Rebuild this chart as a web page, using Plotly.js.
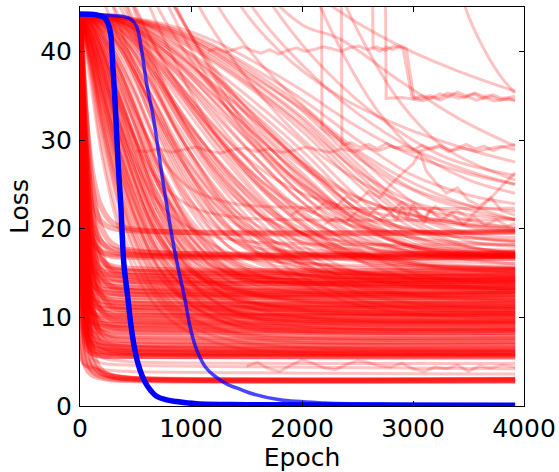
<!DOCTYPE html>
<html><head><meta charset="utf-8">
<script src="https://cdn.plot.ly/plotly-3.0.1.min.js"></script>
<style>html,body{margin:0;padding:0;background:#fff}#chart{width:559px;height:472px}</style>
</head><body><div id="chart"></div>
<script>
// ---------- data ----------
const xTickVals = [0, 1000, 2000, 3000, 4000];
const yTickVals = [0, 10, 20, 30, 40];

// fast-converging red runs (loss at fastEpochs)
const fastEpochs = [0, 25, 60, 110, 180, 280, 450, 3920];
const fastLoss = [
 [44.2, 6.5, 4.2, 3.5, 3.2, 3.0, 2.9, 2.8],
 [44.2, 14, 6, 4.0, 3.4, 3.1, 3.0, 2.9],
 [44.2, 22, 9, 5.0, 3.8, 3.3, 3.1, 3.0],
 [44.2, 5.2, 4.6, 4.2, 3.8, 3.4, 3.1, 2.9],
 [44.2, 30, 14, 6.5, 4.2, 3.4, 3.1, 2.95],
 [44.2, 9, 6.5, 5.9, 5.7, 5.6, 5.6, 5.5],
 [44.2, 16, 8, 6.3, 5.9, 5.8, 5.7, 5.6],
 [44.2, 24, 12, 7.5, 6.3, 6.0, 5.9, 5.8],
 [44.2, 11, 7.4, 6.5, 6.2, 6.1, 6.0, 5.9],
 [44.2, 30, 17, 9.5, 7.0, 6.3, 6.1, 6.0],
 [44.2, 13, 8, 6.8, 6.4, 6.3, 6.2, 6.1],
 [44.2, 20, 10, 7.4, 6.7, 6.5, 6.4, 6.3],
 [44.2, 35, 22, 12, 8.0, 6.9, 6.6, 6.4],
 [44.2, 12, 8.2, 7.1, 6.8, 6.7, 6.6, 6.5],
 [44.2, 25, 13, 8.5, 7.3, 7.0, 6.9, 6.8],
 [44.2, 15, 9, 7.6, 7.2, 7.1, 7.0, 7.0],
 [44.2, 33, 19, 11, 8.4, 7.6, 7.4, 7.3],
 [44.2, 18, 10, 8.2, 7.8, 7.7, 7.6, 7.6],
 [44.2, 28, 15, 10, 8.5, 8.0, 7.9, 7.8],
 [44.2, 10, 7.2, 6.0, 5.7, 5.6, 5.6, 5.7],
 [44.2, 14, 9.5, 8.6, 8.4, 8.3, 8.3, 8.3],
 [44.2, 22, 12, 9.5, 8.8, 8.6, 8.5, 8.5],
 [44.2, 30, 17, 11, 9.4, 8.9, 8.7, 8.6],
 [44.2, 16, 11, 9.4, 9.0, 8.9, 8.9, 8.9],
 [44.2, 26, 15, 10.8, 9.6, 9.2, 9.1, 9.0],
 [44.2, 12, 10, 9.5, 9.3, 9.2, 9.2, 9.2],
 [44.2, 36, 24, 15, 11, 9.8, 9.6, 9.5],
 [44.2, 20, 12.5, 10.3, 9.8, 9.6, 9.6, 9.6],
 [44.2, 18, 12.5, 10.6, 10.1, 9.9, 9.8, 9.8],
 [44.2, 31, 18, 12.5, 10.9, 10.3, 10.2, 10.1],
 [44.2, 15, 11.5, 10.6, 10.3, 10.2, 10.2, 10.2],
 [44.2, 24, 15, 12, 10.9, 10.5, 10.4, 10.4],
 [44.2, 38, 28, 18, 13, 11.2, 10.8, 10.6],
 [44.2, 17, 12.5, 11.3, 11.0, 10.9, 10.9, 10.9],
 [44.2, 27, 16, 12.6, 11.6, 11.2, 11.1, 11.0],
 [44.2, 21, 14, 12.0, 11.4, 11.3, 11.2, 11.2],
 [44.2, 34, 22, 15, 12.5, 11.8, 11.6, 11.5],
 [44.2, 19, 14, 12.4, 11.9, 11.7, 11.6, 11.6],
 [44.2, 29, 19, 14.5, 12.6, 12.0, 11.9, 11.8],
 [44.2, 22, 15.5, 13.2, 12.6, 12.4, 12.3, 12.3],
 [44.2, 32, 21, 15.5, 13.5, 12.8, 12.6, 12.5],
 [44.2, 25, 17, 14, 13.0, 12.7, 12.6, 12.6],
 [44.2, 37, 27, 19, 15, 13.5, 13.0, 12.9],
 [44.2, 20, 15, 13.6, 13.2, 13.1, 13.0, 13.0],
 [44.2, 30, 21, 16, 14.2, 13.5, 13.3, 13.2],
 [44.2, 23, 17, 14.6, 13.8, 13.5, 13.4, 13.4],
 [44.2, 26, 18.5, 15.5, 14.4, 14.0, 13.9, 13.8],
 [44.2, 33, 24, 18, 15.5, 14.5, 14.1, 14.0],
 [44.2, 24, 18, 15.6, 14.6, 14.3, 14.1, 14.1],
 [44.2, 39, 31, 22, 17.5, 15.3, 14.6, 14.4],
 [44.2, 28, 21, 17, 15.4, 14.9, 14.7, 14.6],
 [44.2, 22, 17.5, 15.8, 15.0, 14.8, 14.7, 14.7],
 [44.2, 35, 26, 20, 16.8, 15.6, 15.2, 15.0],
 [44.2, 27, 20.5, 17.2, 15.8, 15.4, 15.2, 15.2],
 [44.2, 31, 24, 19, 16.7, 15.8, 15.5, 15.3],
 [44.2, 30, 23, 19, 17.5, 16.9, 16.8, 16.7],
 [44.2, 36, 28, 22, 18.8, 17.5, 17.1, 16.9],
 [44.2, 27, 21.5, 18.6, 17.5, 17.1, 17.0, 17.0],
 [44.2, 39, 32, 25, 20.5, 18.4, 17.6, 17.2],
 [44.2, 33, 26, 21, 18.7, 17.8, 17.4, 17.3],
 [44.2, 34, 28, 23.5, 21, 20.1, 19.8, 19.6],
 [44.2, 38, 32, 26.5, 22.8, 20.8, 20.0, 19.7]
];
// fast runs that settle in the light 3-5 strip
const fastLightLoss = [
 [44.2, 8, 5.5, 4.6, 4.2, 4.0, 3.9, 3.6],
 [44.2, 18, 8, 5.4, 4.9, 4.7, 4.6, 4.2],
 [44.2, 26, 12, 7, 5.6, 5.2, 5.0, 4.8],
 [44.2, 4.8, 4.5, 4.3, 4.0, 3.6, 3.2, 3.1]
];

// medium-speed red runs
const midEpochs = [0, 100, 200, 350, 500, 700, 1000, 1400, 2000, 3920];
const midLoss = [
 [44.2, 41, 37, 31, 26, 20.5, 15.5, 13.2, 12.4, 12.0],
 [44.2, 42.5, 40, 35, 30, 24, 18, 14.8, 13.8, 13.5],
 [44.2, 43, 41.5, 38, 33.5, 27.5, 21, 16.5, 14.8, 14.3],
 [44.2, 40, 35, 28, 22.5, 17, 12.8, 10.8, 10.0, 9.6],
 [44.2, 43.5, 42.5, 40, 36.5, 31, 24, 18.5, 16.2, 15.5],
 [44.2, 39, 33, 25.5, 20, 15, 11.3, 9.6, 8.9, 8.6],
 [44.2, 42, 38.5, 32.5, 27, 21, 15.5, 12.2, 11.0, 10.6],
 [44.2, 43.8, 43, 41, 37.5, 32, 25, 19.5, 17.2, 16.8],
 [44.2, 38, 31, 23, 17.5, 12.8, 9.8, 8.2, 7.6, 7.3],
 [44.2, 41.5, 38, 32, 26.5, 20, 14, 10.5, 9.0, 8.6],
 [44.2, 43, 40.5, 35.5, 30, 23, 16.5, 12.5, 10.8, 10.2],
 [44.2, 37, 29, 21, 16, 12, 9, 7.3, 6.6, 6.3],
 [44.2, 42, 39, 33.5, 28.5, 22.5, 16.8, 13.2, 12.0, 11.6],
 [44.2, 43.5, 42, 38.5, 34, 27.5, 20, 15, 13.2, 12.8],
 [44.2, 40.5, 36, 29.5, 24, 18.5, 14, 11.5, 10.6, 10.3],
 [44.2, 43.9, 43.5, 42, 39.5, 35, 28.5, 22, 18.5, 17.2],
 [44.2, 39.5, 34, 27, 21.5, 16.5, 13, 11.2, 10.6, 10.4],
 [44.2, 42.8, 40.5, 36, 31.5, 25.5, 19.5, 15.5, 14.1, 13.8],
 [44.2, 36, 28, 20, 15, 11, 8.2, 6.6, 6.0, 5.8],
 [44.2, 41, 36.5, 29.5, 23.5, 17.5, 12.5, 9.6, 8.5, 8.2],
 [44.2, 43.2, 41.5, 37.5, 32.5, 26, 19, 14.5, 12.8, 12.3],
 [44.2, 43.7, 42.8, 40.5, 37, 31.5, 24.5, 18.5, 15.6, 14.8],
 [44.2, 40, 35.5, 29, 24, 19, 15, 13.1, 12.6, 12.4],
 [44.2, 38.5, 32, 24.5, 19, 14.5, 11.6, 10.1, 9.6, 9.3],
 [44.2, 42.3, 39.5, 34, 28.5, 22, 15.8, 11.8, 10.0, 9.5],
 [44.2, 43.6, 42.3, 39, 35, 29, 22, 16.2, 13.5, 12.9],
 [44.2, 41.8, 38, 31.5, 25.5, 19.5, 14.5, 12.0, 11.3, 11.0],
 [44.2, 43.9, 43.6, 42.5, 40.5, 36.5, 30, 23.5, 19.5, 17.6],
 [44.2, 39, 33.5, 26.5, 21, 16, 12.3, 10.4, 9.8, 9.5],
 [44.2, 42.5, 39.8, 34.5, 29.5, 23.5, 17.8, 14.6, 13.6, 13.3],
 [44.2, 37.5, 30.5, 22.5, 17, 12.5, 9.4, 7.9, 7.2, 7.0],
 [44.2, 43.4, 41.8, 38, 33.5, 27, 20.5, 16.2, 14.8, 14.4],
 [44.2, 41.2, 37, 30.5, 25, 19, 13.8, 10.6, 9.4, 9.0],
 [44.2, 43.8, 43.2, 41.5, 38.5, 33.5, 26.5, 20.5, 17.8, 17.0],
 [44.2, 40.5, 35, 27.5, 21.5, 15.8, 11.5, 9.0, 8.2, 7.9],
 [44.2, 42.6, 40, 35, 30.5, 25, 20, 17, 16.1, 15.8],
 [44.2, 39.8, 34.5, 27.8, 22.5, 17.5, 13.6, 11.8, 11.2, 11.0],
 [44.2, 43.1, 41, 36.5, 31.5, 25, 18.2, 13.6, 11.8, 11.2],
 [44.2, 41.6, 38.2, 32, 26.5, 21, 16.5, 14.4, 13.9, 13.7],
 [44.2, 43.5, 42.2, 39, 35.2, 29.5, 23, 18.6, 17.3, 17.0],
 [44.2, 38.2, 31.5, 23.8, 18.5, 14, 10.8, 9.2, 8.7, 8.5],
 [44.2, 42, 38.8, 33, 27.8, 22, 17, 14.9, 14.4, 14.2],
 [44.2, 43, 41, 37, 33, 28.5, 24.5, 22.8, 22.4, 22.3],
 [44.2, 42, 39, 34, 30, 25.5, 22.5, 21.3, 21.0, 21.0],
 [44.2, 41, 37.5, 32, 27.5, 23.0, 20.0, 18.7, 18.3, 18.2],
 [44.2, 43.0, 40.0, 34.0, 28.0, 21.5, 16.0, 13.0, 11.8, 11.4],
 [44.2, 41.0, 36.0, 28.5, 22.5, 16.8, 12.6, 10.6, 10.0, 9.8],
 [44.2, 43.7, 42.5, 39.5, 35.5, 29.5, 22.5, 17.5, 15.3, 14.9],
 [44.2, 42.0, 38.0, 31.0, 25.0, 19.0, 14.4, 12.4, 11.9, 11.7],
 [44.2, 39.0, 32.5, 25.0, 19.5, 14.8, 11.8, 10.6, 10.3, 10.2],
 [44.2, 43.9, 43.3, 41.5, 38.5, 33.5, 26.0, 19.5, 16.0, 14.6],
 [44.2, 42.8, 40.2, 35.2, 30.0, 24.0, 18.3, 15.0, 14.2, 14.0],
 [44.2, 40.2, 34.8, 27.2, 21.2, 15.6, 11.4, 9.1, 8.4, 8.2],
 [44.2, 43.3, 41.4, 37.0, 32.0, 25.5, 19.0, 15.1, 13.8, 13.4],
 [44.2, 41.4, 37.3, 30.8, 25.2, 19.6, 15.0, 12.8, 12.3, 12.2],
 [44.2, 43.8, 42.9, 40.8, 37.6, 32.4, 25.5, 19.0, 15.6, 14.4],
 [44.2, 38.8, 32.2, 24.2, 18.4, 13.4, 10.0, 8.3, 7.8, 7.6],
 [44.2, 42.4, 39.0, 33.0, 27.2, 20.8, 15.2, 12.0, 10.9, 10.6],
 [44.2, 43.6, 42.0, 38.2, 33.6, 27.2, 20.4, 15.8, 14.0, 13.5],
 [44.2, 40.8, 36.0, 29.0, 23.4, 18.0, 13.9, 12.0, 11.5, 11.3],
 [44.2, 43.9, 43.4, 42.0, 39.6, 35.2, 28.4, 21.5, 17.4, 15.5],
 [44.2, 41.9, 38.3, 32.0, 26.4, 20.4, 15.4, 12.9, 12.1, 11.9],
 [44.2, 43.2, 41.0, 36.4, 31.4, 25.0, 18.8, 15.2, 14.2, 14.0],
 [44.2, 39.4, 33.6, 26.2, 20.6, 15.6, 12.0, 10.2, 9.6, 9.4],
 [44.2, 42.6, 39.6, 34.2, 29.0, 23.0, 17.6, 14.6, 13.8, 13.6],
 [44.2, 43.5, 41.8, 37.8, 33.0, 26.6, 20.0, 15.9, 14.7, 14.5],
 [44.2, 40.6, 35.6, 28.6, 23.0, 17.6, 13.4, 11.3, 10.8, 10.6],
 [44.2, 43.0, 40.4, 35.0, 29.6, 23.2, 17.2, 13.8, 12.8, 12.6],
 [44.2, 41.2, 37.0, 30.4, 24.8, 19.4, 15.2, 13.3, 12.9, 12.8],
 [44.2, 43.8, 43.0, 40.6, 36.8, 30.6, 23.2, 17.4, 14.8, 14.1]
];

// slow red runs
const slowEpochs = [0, 300, 600, 900, 1200, 1600, 2000, 2500, 3000, 3500, 3920];
const slowLoss = [
 [44.2, 44.0, 43.2, 42.0, 40.2, 37.0, 33.3, 27.3, 22.0, 19.5, 19.0],
 [44.2, 43.9, 43.0, 41.6, 39.6, 36.2, 32.3, 26.2, 21.0, 18.6, 18.0],
 [44.2, 43.8, 42.7, 41.0, 38.8, 35.2, 31.0, 25.0, 20.0, 17.9, 17.4],
 [44.2, 43.8, 42.5, 40.5, 38.0, 34.0, 29.7, 23.6, 19.2, 17.5, 17.1],
 [44.2, 43.7, 42.2, 39.8, 37.0, 32.6, 28.0, 22.0, 18.3, 17.1, 16.9],
 [44.2, 43.6, 41.8, 39.0, 35.8, 31.0, 26.3, 20.8, 17.8, 16.9, 16.7],
 [44.2, 43.5, 41.4, 38.2, 34.5, 29.5, 24.8, 19.8, 17.3, 16.8, 16.7],
 [44.2, 43.3, 40.8, 37.2, 33.0, 27.8, 23.0, 18.5, 16.2, 15.4, 15.2],
 [44.2, 43.9, 43.1, 41.8, 40.0, 36.8, 33.5, 28.5, 24.5, 22.6, 22.0],
 [44.2, 43.9, 43.0, 41.4, 39.3, 35.7, 31.8, 26.5, 23.0, 21.6, 21.1],
 [44.2, 43.7, 42.0, 39.4, 36.4, 32.0, 27.5, 22.2, 19.9, 19.6, 19.6],
 [44.2, 43.4, 41.0, 37.6, 33.8, 29.0, 24.6, 20.5, 19.0, 18.4, 18.2],
 [44.2, 43.2, 40.2, 36.2, 31.8, 26.5, 22.0, 17.8, 15.0, 14.0, 13.7],
 [44.2, 42.9, 39.5, 35.0, 30.2, 24.8, 20.5, 16.5, 14.3, 13.5, 13.2],
 [44.2, 43.0, 39.8, 35.5, 31.0, 25.8, 21.6, 18.2, 17.2, 17.0, 16.9],
 [44.2, 43.6, 41.6, 38.6, 35.0, 30.3, 25.9, 21.0, 18.0, 17.4, 17.3],
 [44.2, 44.0, 43.5, 42.6, 41.2, 38.6, 35.6, 31.5, 28.2, 26.2, 25.0],
 [44.2, 44.0, 43.4, 42.3, 40.7, 37.8, 34.6, 30.0, 26.0, 23.8, 22.8],
 [44.2, 43.5, 41.0, 37.0, 32.5, 26.5, 21.5, 17.5, 16.2, 15.8, 15.6],
 [44.2, 43.2, 40.0, 35.2, 30.0, 24.0, 19.5, 16.4, 15.2, 14.8, 14.6],
 [44.2, 42.8, 38.8, 33.4, 28.2, 22.4, 18.2, 15.0, 13.8, 13.4, 13.2],
 [44.2, 42.5, 38.0, 32.0, 26.6, 21.0, 17.0, 13.8, 12.6, 12.2, 12.0],
 [44.2, 43.4, 40.6, 36.0, 31.2, 25.4, 20.8, 17.0, 15.8, 15.5, 15.4],
 [44.2, 42.0, 36.8, 30.4, 25.0, 19.6, 15.8, 12.8, 11.6, 11.2, 11.0],
 [44.2, 43.0, 39.4, 34.4, 29.4, 23.6, 19.4, 16.6, 15.6, 15.3, 15.2],
 [44.2, 43.7, 41.8, 38.4, 34.4, 28.8, 23.8, 19.2, 17.6, 17.2, 17.1],
 [44.2, 41.6, 36.0, 29.2, 23.6, 18.2, 14.6, 12.0, 11.0, 10.7, 10.6],
 [44.2, 43.8, 42.4, 39.6, 36.0, 30.6, 25.4, 20.4, 18.0, 17.4, 17.2],
 [44.2, 42.2, 37.4, 31.2, 25.8, 20.2, 16.2, 13.4, 12.4, 12.0, 11.9],
 [44.2, 43.3, 40.2, 35.6, 30.8, 25.0, 20.4, 17.2, 16.4, 16.2, 16.1],
 [44.2, 41.2, 35.2, 28.0, 22.4, 17.2, 13.8, 11.4, 10.4, 10.0, 9.9],
 [44.2, 43.6, 41.4, 37.6, 33.4, 27.8, 23.0, 19.0, 17.4, 17.0, 16.9],
 [44.2, 42.6, 38.4, 32.6, 27.4, 21.8, 17.6, 14.6, 13.6, 13.3, 13.2],
 [44.2, 43.9, 42.9, 40.6, 37.4, 32.4, 27.4, 22.2, 19.8, 19.0, 18.7],
 [44.2, 44.0, 43.3, 42.2, 40.5, 37.4, 33.8, 28.2, 23.0, 20.2, 19.7],
 [44.2, 43.9, 42.9, 41.2, 39.0, 35.5, 31.5, 25.6, 20.6, 18.0, 17.3],
 [44.2, 43.8, 42.4, 40.2, 37.4, 33.2, 28.8, 22.8, 18.8, 17.3, 17.0],
 [44.2, 43.7, 42.0, 39.4, 36.2, 31.8, 27.2, 21.5, 18.0, 17.0, 16.8],
 [44.2, 43.6, 41.6, 38.6, 35.2, 30.4, 25.8, 20.6, 17.8, 17.0, 16.8],
 [44.2, 43.9, 43.2, 41.9, 39.9, 36.4, 32.6, 26.8, 21.6, 19.2, 18.6]
];

// runs that start above the visible range, as [epoch, loss] points
const highCurves = [
 [[0,70],[200,50],[400,44],[700,37],[1000,31],[1400,25],[2000,19.5],[3000,16],[3920,15]],
 [[0,90],[500,55],[800,45],[1200,36],[1600,29],[2200,22],[3000,18],[3920,17]],
 [[0,100],[800,58],[1200,46],[1600,39],[2000,34],[2600,28],[3200,24],[3920,21]],
 [[0,120],[1000,60],[1500,46],[2000,38.5],[2500,33],[3000,29],[3500,26.5],[3920,25]],
 [[0,120],[1200,65],[1800,50],[2340,44.5],[2900,40.5],[3400,37.8],[3920,35.5]],
 [[0,110],[1000,62],[1600,48],[2000,43],[2340,41.4],[2900,36.5],[3400,32.5],[3920,29.3]],
 [[0,100],[900,60],[1400,46],[1800,40],[2340,34.9],[2900,31.5],[3400,29.3],[3920,27.5]],
 [[3000,80],[3300,55],[3470,45],[3650,40],[3800,37],[3920,35.3]],
 [[0,80],[300,52],[500,45],[800,38],[1100,33],[1500,28],[2000,24],[3000,21],[3920,20]],
 [[0,60],[150,48],[300,43],[600,35],[1000,27],[1500,20],[2000,16],[3000,13.5],[3920,13]],
 [[0,140],[1500,70],[2100,47],[2400,39],[2700,33],[3000,29],[3500,25.5],[3920,24]],
 [[0,150],[1800,70],[2300,48],[2600,40],[2900,34],[3300,29],[3920,25.5]],
 [[0,95],[600,52],[900,44],[1300,36],[1800,29],[2400,24],[3200,21],[3920,20.2]],
 [[0,75],[400,48],[650,41],[1000,34],[1400,28],[1900,23],[2600,20],[3920,19.8]],
 [[0,65],[200,48],[350,44],[600,39],[900,33],[1300,27],[1800,21],[2500,17],[3920,15.5]],
 [[0,85],[400,55],[700,45],[1000,39],[1400,32.5],[1900,26],[2600,21],[3920,18.5]],
 [[0,105],[700,60],[1000,47],[1300,40.5],[1700,34],[2200,28],[2900,23],[3920,20]],
 [[0,130],[1100,64],[1500,50],[1800,44],[2200,38],[2700,32.5],[3300,28],[3920,26]],
 [[0,90],[600,52],[850,45],[1100,40],[1500,33.5],[2000,27.5],[2700,22.5],[3920,19.8]],
 [[0,70],[250,50],[450,43.5],[700,37.5],[1000,31.5],[1400,25.5],[2000,20],[3000,17],[3920,16.5]],
 [[0,70],[150,52],[300,45],[500,38],[800,30],[1200,23],[1800,17.5],[2600,15],[3920,14.2]],
 [[0,80],[250,55],[450,46],[700,38],[1000,30.5],[1400,24],[2000,18.5],[3000,16],[3920,15.6]],
 [[0,90],[350,58],[600,46],[850,39],[1200,31],[1700,24],[2400,19],[3920,16]],
 [[0,75],[300,50],[500,43],[800,35],[1200,27],[1700,21],[2400,17.3],[3920,16.9]],
 [[0,100],[500,60],[800,47],[1100,39.5],[1500,31.5],[2000,25],[2700,20],[3920,17.2]],
 [[0,85],[200,58],[400,46],[650,37],[950,29],[1350,22],[1900,17],[2800,14.6],[3920,14]]
];

// noisy and jumping runs, as [epoch, loss] points (straight segments)
const noisyCurves = [
 [[1150,40.0],[1230,40.3],[1310,39.9],[1390,40.2],[1470,40.5],[1550,40.1],[1630,39.8],[1710,40.2],[1790,39.7],[1870,40.1],[1950,40.4],[2030,40.0],[2110,40.2],[2190,40.5],[2270,40.3],[2350,40.0],[2430,40.4],[2510,40.6],[2590,40.2],[2670,40.5],[2750,40.1],[2830,40.6],[2910,40.3],[2990,34.9],[3070,34.6],[3150,35.0],[3230,34.7],[3310,35.3],[3390,35.1],[3470,34.8],[3550,35.2],[3630,34.7],[3710,34.9],[3790,34.5],[3870,34.7],[3920,34.4]],
 [[2625,60],[2640,40.4],[2700,40.0],[2760,40.5],[2820,40.2],[2880,40.6],[2940,40.3],[3010,34.6],[3090,34.4],[3170,34.8],[3250,34.5],[3330,35.0],[3410,34.7],[3490,34.9],[3570,34.5],[3650,34.8],[3730,34.4],[3810,34.6],[3920,34.5]],
 [[2745,60],[2758,34.7],[2900,34.8],[3000,34.6],[3080,35.0],[3160,34.7],[3240,35.2],[3320,34.9],[3400,35.4],[3480,35.0],[3560,35.3],[3640,34.9],[3720,35.1],[3800,34.7],[3920,34.9]],
 [[2170,70],[2180,31.3],[2300,30.2],[2500,28.0],[2800,25.5],[3200,23.2],[3600,21.8],[3920,21.0]],
 [[2345,70],[2360,29.4],[2440,29.7],[2520,29.2],[2600,29.5],[2680,29.0],[2760,29.6],[2840,29.1],[2920,29.3],[3000,28.9],[3080,29.4],[3160,29.0],[3240,29.2],[3320,28.7],[3400,29.1],[3480,29.5],[3560,29.0],[3640,29.3],[3720,28.8],[3800,29.2],[3920,29.5]],
 [[500,28.8],[600,28.7],[710,29.0],[820,28.6],[930,28.9],[1040,29.2],[1150,28.8],[1260,28.5],[1370,28.9],[1480,29.1],[1590,28.7],[1700,29.0],[1810,28.6],[1920,28.8],[2030,29.2],[2140,28.9],[2250,28.6],[2360,29.0],[2470,28.7],[2580,29.1],[2690,28.8],[2800,29.3],[2910,28.9],[3020,28.6],[3130,29.0],[3240,29.4],[3350,28.8],[3460,29.1],[3570,28.7],[3680,29.0],[3790,29.3],[3920,28.9]],
 [[1900,21.5],[2000,22.3],[2100,21.8],[2200,22.9],[2300,22.4],[2400,23.6],[2500,23.0],[2600,24.2],[2700,23.5],[2800,25.0],[2900,26.2],[3000,27.3],[3060,28.6],[3120,26.5],[3200,25.3],[3300,24.0],[3400,24.6],[3500,23.2],[3600,22.6],[3700,23.5],[3800,22.0],[3920,21.5]],
 [[2200,20.5],[2300,21.2],[2400,20.8],[2500,22.0],[2600,21.5],[2700,22.6],[2800,21.9],[2900,23.0],[3000,22.2],[3100,21.3],[3200,22.5],[3300,21.6],[3400,22.0],[3500,21.2],[3600,22.3],[3700,23.4],[3800,24.8],[3860,25.5],[3920,26.3]],
 [[2700,21.0],[2800,21.8],[2850,20.9],[2900,22.5],[2950,21.2],[3000,22.8],[3050,21.5],[3100,20.6],[3150,22.1],[3250,21.0],[3350,21.7],[3450,20.5],[3550,21.3],[3650,20.4],[3750,21.0],[3850,20.3],[3920,20.6]],
 [[1500,4.5],[1600,4.9],[1700,4.2],[1800,3.9],[1900,4.6],[2000,5.2],[2100,4.8],[2200,4.3],[2300,4.1],[2400,4.7],[2500,5.1],[2600,4.9],[2700,4.5],[2800,4.4],[2900,4.8],[3000,4.2],[3100,3.9],[3200,4.4],[3300,4.2],[3400,4.6],[3500,3.9],[3600,4.5],[3700,4.3],[3800,4.6],[3920,4.4]]
];

// the two blue runs
const blueFastEpochs = [0, 150, 220, 250, 276, 295, 315, 345, 367, 396, 430, 460, 490, 520, 560, 610, 690, 780, 870, 1050, 1500, 2500, 3920];
const blueFastLoss   = [44.2, 44.1, 43.8, 43.2, 42.0, 38.5, 34.5, 27.0, 22.8, 15.9, 12.3, 9.0, 6.6, 4.9, 3.4, 2.2, 1.1, 0.7, 0.5, 0.25, 0.15, 0.1, 0.08];
const blueSlowEpochs = [0, 200, 400, 460, 510, 555, 600, 660, 705, 750, 780, 826, 885, 946, 990, 1035, 1080, 1130, 1200, 1320, 1450, 1560, 1800, 2200, 2800, 3920];
const blueSlowLoss   = [44.2, 44.1, 43.9, 43.6, 42.8, 40.1, 36.4, 32.6, 28.9, 25.1, 22.8, 19.3, 15.5, 12.0, 9.0, 6.9, 5.5, 4.4, 3.5, 2.5, 1.85, 1.35, 0.7, 0.35, 0.18, 0.1];

// ---------- drawing ----------
const RED = 'rgba(255,0,0,0.24)';
function tr(x, y, color, width, shape) {
  return {type: 'scatter', mode: 'lines', x: x, y: y,
    line: {color: color, width: width, shape: shape, smoothing: 1},
    hoverinfo: 'skip', showlegend: false, cliponaxis: true};
}
const traces = [];
fastLoss.forEach(r => traces.push(tr(fastEpochs, r, 'rgba(255,0,0,0.32)', 5.5, 'spline')));
fastLightLoss.forEach(r => traces.push(tr(fastEpochs, r, RED, 3, 'spline')));
midLoss.forEach(r => traces.push(tr(midEpochs, r, RED, 3, 'spline')));
slowLoss.forEach(r => traces.push(tr(slowEpochs, r, RED, 3, 'spline')));
highCurves.forEach(c => traces.push(tr(c.map(p => p[0]), c.map(p => p[1]), RED, 3, 'spline')));
noisyCurves.forEach(c => traces.push(tr(c.map(p => p[0]), c.map(p => p[1]), RED, 3, 'linear')));
traces.push(tr(blueSlowEpochs, blueSlowLoss, 'rgba(0,0,255,0.72)', 3.5, 'spline'));
traces.push(tr(blueFastEpochs, blueFastLoss, 'rgb(0,0,255)', 5.5, 'spline'));

const FONT = {family: 'DejaVu Sans, sans-serif', size: 25, color: '#000'};
const axisBase = {showgrid: false, zeroline: false, showline: true, linecolor: '#000', linewidth: 1,
  mirror: 'ticks', ticks: 'inside', ticklen: 5, tickwidth: 1, tickcolor: '#000',
  tickfont: FONT, automargin: false};

const layout = {
  width: 559, height: 472,
  margin: {l: 80, r: 35, t: 7, b: 66, pad: 0},
  paper_bgcolor: '#fff', plot_bgcolor: '#fff',
  xaxis: Object.assign({}, axisBase, {range: [0, 4000], tickvals: xTickVals,
    ticktext: xTickVals.map(String), title: {text: 'Epoch', font: FONT, standoff: 4}}),
  yaxis: Object.assign({}, axisBase, {range: [0, 45], tickvals: yTickVals,
    ticktext: yTickVals.map(String), ticklabelstandoff: 2, title: {text: 'Loss', font: FONT, standoff: 4}}),
  showlegend: false
};
Plotly.newPlot('chart', traces, layout, {staticPlot: true, displayModeBar: false});
</script>
</body></html>
